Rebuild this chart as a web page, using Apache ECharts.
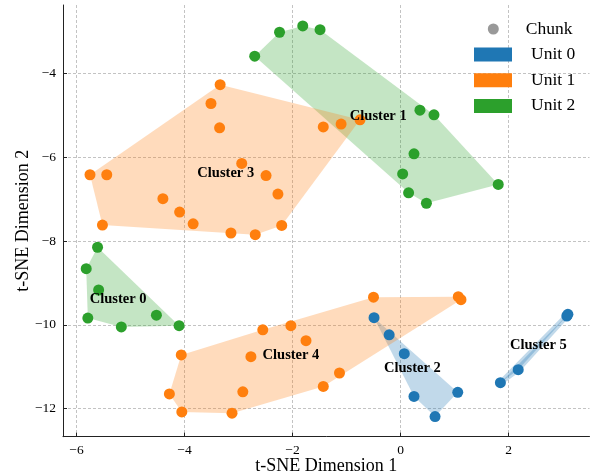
<!DOCTYPE html>
<html><head><meta charset="utf-8">
<script src="https://cdn.jsdelivr.net/npm/echarts@6/dist/echarts.min.js"></script>
<style>html,body{margin:0;padding:0;background:#fff}#c{width:592px;height:476px}</style>
</head><body><div id="c"></div>
<script>
const unitNames = ['Unit 0', 'Unit 1', 'Unit 2'];
const unitColors = ['#1f77b4', '#ff7f0e', '#2ca02c'];
const clusterNames = ['Cluster 0', 'Cluster 1', 'Cluster 2', 'Cluster 3', 'Cluster 4', 'Cluster 5'];
const clusterUnit = [2, 2, 0, 1, 1, 0];
const cluster0X = [-5.61, -5.82, -5.59, -5.79, -5.17, -4.52, -4.10];
const cluster0Y = [-8.15, -8.66, -9.17, -9.84, -10.05, -9.77, -10.02];
const cluster1X = [-2.70, -2.24, -1.81, -1.49, 0.36, 0.62, 0.25, 0.04, 0.15, 0.48, 1.81];
const cluster1Y = [-3.59, -3.02, -2.87, -2.96, -4.88, -4.99, -5.92, -6.40, -6.85, -7.10, -6.65];
const cluster2X = [-0.49, -0.21, 0.07, 0.25, 1.06, 0.64];
const cluster2Y = [-9.83, -10.24, -10.69, -11.71, -11.61, -12.19];
const cluster3X = [-3.34, -3.51, -3.35, -1.43, -1.10, -0.75, -2.94, -5.75, -5.44, -2.49, -2.27, -4.40, -4.09, -5.52, -3.84, -3.14, -2.69, -2.20];
const cluster3Y = [-4.27, -4.72, -5.30, -5.28, -5.21, -5.11, -6.15, -6.42, -6.42, -6.44, -6.88, -6.99, -7.31, -7.62, -7.59, -7.81, -7.85, -7.63];
const cluster4X = [-2.55, -2.03, -1.75, -4.06, -2.77, -1.13, -1.43, -4.28, -2.92, -4.05, -3.12, -0.50, 1.07, 1.12];
const cluster4Y = [-10.12, -10.02, -10.38, -10.72, -10.76, -11.15, -11.47, -11.65, -11.60, -12.08, -12.11, -9.34, -9.33, -9.40];
const cluster5X = [1.85, 2.18, 3.08, 3.10];
const cluster5Y = [-11.38, -11.07, -9.79, -9.75];
const xTicks = [-6, -4, -2, 0, 2];
const yTicks = [-12, -10, -8, -6, -4];

const clusterXs = [cluster0X, cluster1X, cluster2X, cluster3X, cluster4X, cluster5X];
const clusterYs = [cluster0Y, cluster1Y, cluster2Y, cluster3Y, cluster4Y, cluster5Y];
const FONT = "'Liberation Serif','Times New Roman',serif";

function hull(pts) {
  const p = pts.slice().sort((a, b) => a[0] - b[0] || a[1] - b[1]);
  const cross = (o, a, b) => (a[0] - o[0]) * (b[1] - o[1]) - (a[1] - o[1]) * (b[0] - o[0]);
  const lower = [], upper = [];
  for (const q of p) { while (lower.length >= 2 && cross(lower[lower.length - 2], lower[lower.length - 1], q) <= 0) lower.pop(); lower.push(q); }
  for (let i = p.length - 1; i >= 0; i--) { const q = p[i]; while (upper.length >= 2 && cross(upper[upper.length - 2], upper[upper.length - 1], q) <= 0) upper.pop(); upper.push(q); }
  upper.pop(); lower.pop();
  return lower.concat(upper);
}
const clusterPts = clusterXs.map((xs, i) => xs.map((x, j) => [x, clusterYs[i][j]]));
const hulls = clusterPts.map(hull);
const centroids = clusterPts.map(ps => [ps.reduce((s, p) => s + p[0], 0) / ps.length, ps.reduce((s, p) => s + p[1], 0) / ps.length]);

const unitSeries = unitNames.map((name, u) => {
  const data = [];
  clusterPts.forEach((ps, ci) => { if (clusterUnit[ci] === u) ps.forEach(p => data.push(p)); });
  return { name, type: 'scatter', data, symbol: 'circle', symbolSize: 11, z: 3,
    itemStyle: { color: unitColors[u], opacity: 1 }, emphasis: { disabled: true } };
});

const fmt = v => (v < 0 ? '\u2212' + Math.abs(v) : String(v));
const axisCommon = {
  type: 'value',
  axisLine: { show: true, onZero: false, lineStyle: { color: '#222', width: 1 } },
  axisTick: { show: true, inside: true, length: 4, lineStyle: { color: '#222', width: 1 } },
  axisLabel: { fontFamily: FONT, fontSize: 13.5, color: '#000', margin: 7, formatter: fmt },
  splitLine: { show: true, lineStyle: { color: '#b4b4b4', width: 0.8, type: [3, 2] } },
  nameLocation: 'middle',
  nameMoveOverlap: false,
  nameTextStyle: { fontFamily: FONT, fontSize: 18, color: '#000' }
};

const chart = echarts.init(document.getElementById('c'), null, { renderer: 'canvas' });
chart.setOption({
  animation: false,
  backgroundColor: '#fff',
  grid: { left: 63, top: 5, width: 526.5, height: 431.7, containLabel: false, outerBoundsMode: 'none' },
  xAxis: Object.assign({}, axisCommon, {
    min: -6.25, max: 3.5, name: 't-SNE Dimension 1', nameGap: 21,
    axisTick: Object.assign({}, axisCommon.axisTick, { customValues: xTicks }),
    axisLabel: Object.assign({}, axisCommon.axisLabel, { customValues: xTicks }),
    splitLine: Object.assign({}, axisCommon.splitLine, { customValues: xTicks })
  }),
  yAxis: Object.assign({}, axisCommon, {
    min: -12.67, max: -2.37, name: 't-SNE Dimension 2', nameGap: 31,
    axisTick: Object.assign({}, axisCommon.axisTick, { customValues: yTicks }),
    axisLabel: Object.assign({}, axisCommon.axisLabel, { customValues: yTicks }),
    splitLine: Object.assign({}, axisCommon.splitLine, { customValues: yTicks })
  }),
  legend: [
    { data: [{ name: 'Chunk', icon: 'circle' }], left: 487.8, top: 20, padding: 0,
      itemWidth: 11, itemHeight: 11, selectedMode: false,
      textStyle: { fontFamily: FONT, fontSize: 17.5, color: '#000', lineHeight: 18, padding: [0, 0, 0, 22] } },
    { data: unitNames, icon: 'rect', orient: 'vertical', left: 474, top: 45.5, padding: 0,
      itemWidth: 38, itemHeight: 14, itemGap: 7.7, selectedMode: false,
      textStyle: { fontFamily: FONT, fontSize: 17.5, color: '#000', lineHeight: 18, padding: [0, 0, 0, 14] } }
  ],
  series: [
    { type: 'custom', name: 'hulls', z: 1, silent: true,
      data: clusterNames.map((n, i) => [i]),
      renderItem: (params, api) => {
        const ci = api.value(0);
        const pts = hulls[ci].map(p => api.coord(p));
        let area = 0;
        for (let i = 0; i < pts.length; i++) { const a = pts[i], b = pts[(i + 1) % pts.length]; area += a[0] * b[1] - b[0] * a[1]; }
        const thin = Math.abs(area) / 2 < 200;
        const col = unitColors[clusterUnit[ci]];
        return { type: 'polygon', shape: { points: pts },
          style: { fill: col, opacity: 0.28, stroke: thin ? col : null, lineWidth: thin ? 5 : 0, lineJoin: 'round' } };
      } },
    ...unitSeries,
    { name: 'Chunk', type: 'scatter', data: [], itemStyle: { color: '#808080' } },
    { type: 'custom', name: 'labels', z: 5, silent: true,
      data: centroids.map((c, i) => [c[0], c[1], i]),
      renderItem: (params, api) => {
        const pt = api.coord([api.value(0), api.value(1)]);
        return { type: 'text', x: pt[0], y: pt[1], z2: 10,
          style: { text: clusterNames[api.value(2)], fill: '#000', align: 'center', verticalAlign: 'middle',
            font: 'bold 14.5px ' + FONT } };
      } }
  ]
});
</script></body></html>
